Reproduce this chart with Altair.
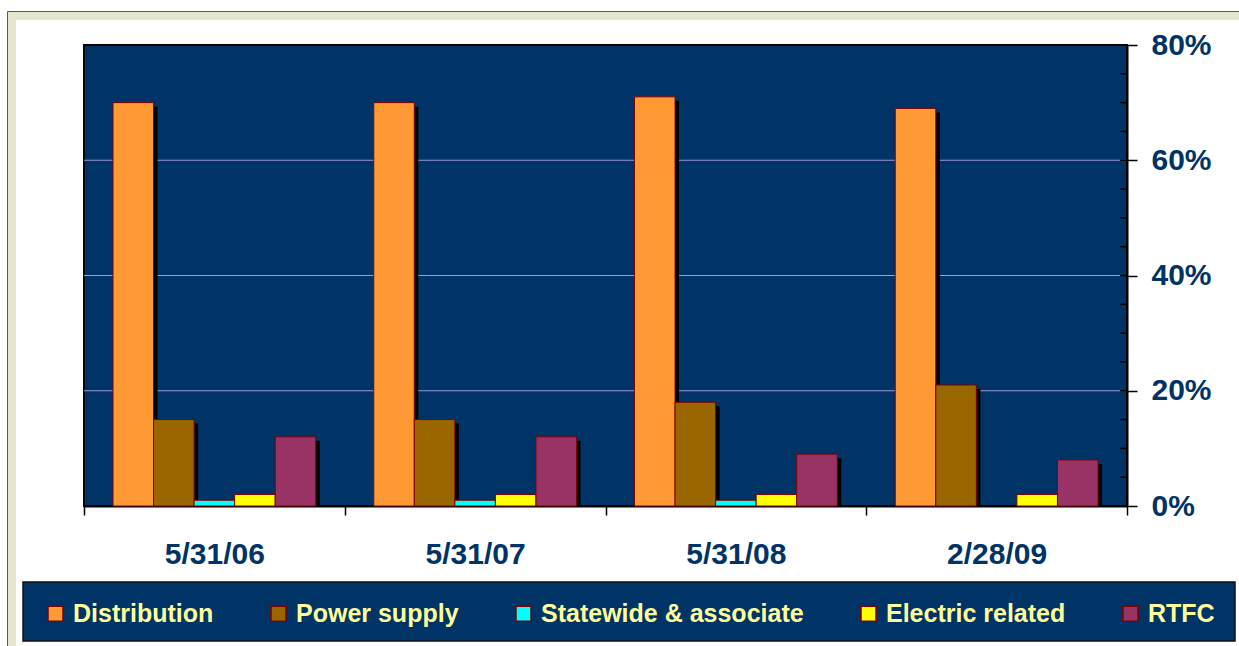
import altair as alt
import pandas as pd

# ---- data ----
categories = ["5/31/06", "5/31/07", "5/31/08", "2/28/09"]
series = ["Distribution", "Power supply", "Statewide & associate", "Electric related", "RTFC"]
distribution = [70, 70, 71, 69]
power_supply = [15, 15, 18, 21]
statewide = [1, 1, 1, 0]
electric_related = [2, 2, 2, 2]
rtfc = [12, 12, 9, 8]
colors = ["#FF9933", "#996600", "#00FFFF", "#FFFF00", "#993366"]
y_ticks = [0, 20, 40, 60, 80]
grid_values = [20, 40, 60]
minor_ticks = [0, 5, 10, 15, 20, 25, 30, 35, 40, 45, 50, 55, 60, 65, 70, 75, 80]

rows = []
for s, vals in zip(series, [distribution, power_supply, statewide, electric_related, rtfc]):
    for c, v in zip(categories, vals):
        rows.append({"date": c, "series": s, "value": v})
df = pd.DataFrame(rows)

W, H = 1043, 461
NAVY = "#003366"
FONT = "Liberation Sans"
BAND = W / len(categories)

x_scale = alt.Scale(domain=categories, paddingInner=0, paddingOuter=0)
off_scale = alt.Scale(domain=series, paddingInner=0, paddingOuter=0.715)
shadow_off_scale = alt.Scale(domain=series, range=[4, BAND + 4], paddingInner=0, paddingOuter=0.715)
y_scale = alt.Scale(domain=[0, 80], nice=False, zero=True)

one = alt.Data(values=[{"a": 1}])

frame_left = alt.Chart(one).mark_rule(color="#E6E6CE", strokeWidth=8).encode(
    x=alt.value(12 - 84), y=alt.value(12 - 45), y2=alt.value(646 - 45 + 10))
frame_top = alt.Chart(one).mark_rule(color="#E6E6CE", strokeWidth=8).encode(
    y=alt.value(16 - 45), x=alt.value(8 - 84), x2=alt.value(1239 - 84 + 10))
line_left = alt.Chart(one).mark_rule(color="#55557A", strokeWidth=1).encode(
    x=alt.value(7.5 - 84), y=alt.value(11.5 - 45), y2=alt.value(646 - 45 + 10))
line_top = alt.Chart(one).mark_rule(color="#55557A", strokeWidth=1).encode(
    y=alt.value(11.5 - 45), x=alt.value(7.5 - 84), x2=alt.value(1239 - 84 + 10))

legend_box = alt.Chart(one).mark_rect(fill=NAVY, stroke="#111111", strokeWidth=1.5).encode(
    x=alt.value(23 - 84), x2=alt.value(1235 - 84),
    y=alt.value(582 - 45), y2=alt.value(641 - 45),
)

x_axis = alt.Axis(labelAngle=0, labelFont=FONT, labelFontSize=30, labelFontWeight="bold",
                  labelColor=NAVY, labelPadding=24, tickSize=9, tickColor="black",
                  tickWidth=1.5, domainColor="black", domainWidth=2, tickBand="extent",
                  grid=False)
y_axis = alt.Axis(orient="right", values=y_ticks, labelExpr="datum.value + '%'",
                  labelFont=FONT, labelFontSize=30, labelFontWeight="bold", labelColor=NAVY,
                  labelPadding=14, tickSize=10, tickColor="black", tickWidth=1.5,
                  domainColor="black", domainWidth=2, grid=False)

grid = alt.Chart(pd.DataFrame({"v": grid_values})).mark_rule(color="#9A9ADC", strokeWidth=1).encode(
    y=alt.Y("v:Q", scale=y_scale, title=None, axis=y_axis),
)

shadow = alt.Chart(df).mark_bar(color="black", yOffset=4, clip=True).encode(
    x=alt.X("date:N", sort=categories, scale=x_scale, title=None, axis=x_axis),
    xOffset=alt.XOffset("series:N", sort=series, scale=shadow_off_scale),
    y=alt.Y("value:Q", scale=y_scale, title=None, axis=y_axis),
)

bars = alt.Chart(df).mark_bar(stroke="#800000", strokeWidth=1).encode(
    x=alt.X("date:N", sort=categories, scale=x_scale, title=None, axis=x_axis),
    xOffset=alt.XOffset("series:N", sort=series, scale=off_scale),
    y=alt.Y("value:Q", scale=y_scale, title=None, axis=y_axis),
    strokeOpacity=alt.condition("datum.value > 0", alt.value(1), alt.value(0)),
    color=alt.Color("series:N", sort=series, scale=alt.Scale(domain=series, range=colors),
                    legend=alt.Legend(orient="none", legendX=43 - 84, legendY=556, direction="horizontal",
                                      title=None, symbolType="square", symbolSize=225,
                                      symbolStrokeColor="#800000", symbolStrokeWidth=1.5,
                                      labelFont=FONT, labelFontSize=25, labelFontWeight="bold",
                                      labelColor="#FFFF99", labelOffset=5, columnPadding=52,
                                      padding=0, labelLimit=400)),
)

minor = alt.Chart(pd.DataFrame({"v": minor_ticks})).mark_rule(color="black", strokeWidth=1.5).encode(
    y=alt.Y("v:Q", scale=y_scale, title=None, axis=y_axis),
    x=alt.value(W - 7), x2=alt.value(W),
)

chart = alt.layer(frame_left, frame_top, line_left, line_top, legend_box, grid, shadow, bars, minor).resolve_scale(
    xOffset="independent"
).properties(
    width=W, height=H,
    padding={"left": 84, "top": 45, "right": 1239 - 84 - W, "bottom": 646 - 45 - H},
    autosize=alt.AutoSizeParams(type="none"),
    background="white",
).configure(font=FONT).configure_view(fill=NAVY, stroke="black", strokeWidth=2)

chart.save("out.html", embed_options={"renderer": "svg", "actions": False})
